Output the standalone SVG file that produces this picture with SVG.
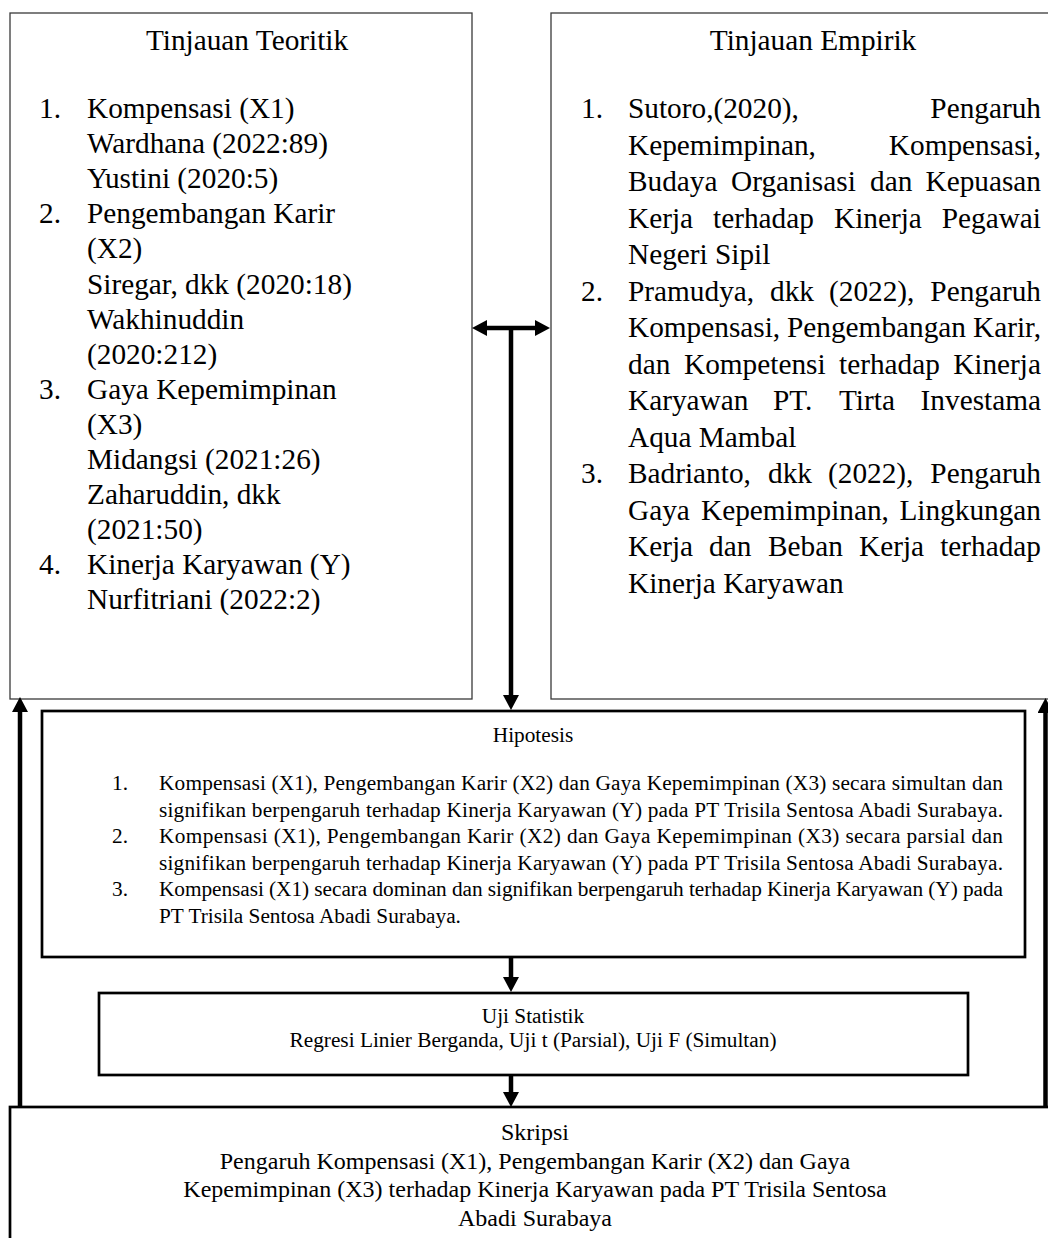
<svg xmlns="http://www.w3.org/2000/svg" width="1048" height="1238" viewBox="0 0 1048 1238">
<style>
text{font-family:"Liberation Serif","Times New Roman",serif;fill:#000}
.big{font-size:29.3px}
.mid{font-size:21.3px}
.sk{font-size:24px}
.c{text-anchor:middle}
.e{text-anchor:end}
.thin{fill:#fff;stroke:#3a3a3a;stroke-width:1.3}
.thick{fill:#fff;stroke:#000;stroke-width:2.7}
.conn{fill:none;stroke:#000;stroke-width:4.5}
</style>
<defs>
<marker id="ah" viewBox="0 0 15 16" refX="0" refY="8" markerWidth="15" markerHeight="16" markerUnits="userSpaceOnUse" orient="auto-start-reverse">
<path d="M0,0 L15,8 L0,16 z" fill="#000"/>
</marker>
</defs>
<rect width="1048" height="1238" fill="#fff"/>

<g id="node-teoritik">
<rect class="thin" x="10" y="13" width="462" height="686"/>
<text class="big c" x="247" y="50">Tinjauan Teoritik</text>
<text class="big" x="39" y="118">1.</text><text class="big" x="87" y="118">Kompensasi (X1)</text>
<text class="big" x="87" y="153">Wardhana (2022:89)</text>
<text class="big" x="87" y="188">Yustini (2020:5)</text>
<text class="big" x="39" y="223">2.</text><text class="big" x="87" y="223">Pengembangan Karir</text>
<text class="big" x="87" y="258">(X2)</text>
<text class="big" x="87" y="294">Siregar, dkk (2020:18)</text>
<text class="big" x="87" y="329">Wakhinuddin</text>
<text class="big" x="87" y="364">(2020:212)</text>
<text class="big" x="39" y="399">3.</text><text class="big" x="87" y="399">Gaya Kepemimpinan</text>
<text class="big" x="87" y="434">(X3)</text>
<text class="big" x="87" y="469">Midangsi (2021:26)</text>
<text class="big" x="87" y="504">Zaharuddin, dkk</text>
<text class="big" x="87" y="539">(2021:50)</text>
<text class="big" x="39" y="574">4.</text><text class="big" x="87" y="574">Kinerja Karyawan (Y)</text>
<text class="big" x="87" y="609">Nurfitriani (2022:2)</text>
</g>

<g id="node-empirik">
<rect class="thin" x="551" y="13" width="520" height="686"/>
<text class="big c" x="813" y="50">Tinjauan Empirik</text>
<text class="big" x="581" y="118">1.</text>
<text class="big" x="628" y="118">Sutoro,(2020),</text><text class="big e" x="1041" y="118">Pengaruh</text>
<text class="big" x="628" y="154.5">Kepemimpinan,</text><text class="big e" x="1041" y="154.5">Kompensasi,</text>
<text class="big" x="628" y="191">Budaya</text><text class="big" x="731" y="191">Organisasi</text><text class="big" x="870" y="191">dan</text><text class="big e" x="1041" y="191">Kepuasan</text>
<text class="big" x="628" y="227.5">Kerja</text><text class="big" x="713" y="227.5">terhadap</text><text class="big" x="834" y="227.5">Kinerja</text><text class="big e" x="1041" y="227.5">Pegawai</text>
<text class="big" x="628" y="264">Negeri Sipil</text>
<text class="big" x="581" y="300.5">2.</text>
<text class="big" x="628" y="300.5">Pramudya,</text><text class="big" x="770" y="300.5">dkk</text><text class="big" x="829" y="300.5">(2022),</text><text class="big e" x="1041" y="300.5">Pengaruh</text>
<text class="big" x="628" y="337">Kompensasi,</text><text class="big" x="787" y="337">Pengembangan</text><text class="big e" x="1041" y="337">Karir,</text>
<text class="big" x="628" y="373.5">dan</text><text class="big" x="684" y="373.5">Kompetensi</text><text class="big" x="839" y="373.5">terhadap</text><text class="big e" x="1041" y="373.5">Kinerja</text>
<text class="big" x="628" y="410">Karyawan</text><text class="big" x="773" y="410">PT.</text><text class="big" x="839" y="410">Tirta</text><text class="big e" x="1041" y="410">Investama</text>
<text class="big" x="628" y="446.5">Aqua Mambal</text>
<text class="big" x="581" y="483">3.</text>
<text class="big" x="628" y="483">Badrianto,</text><text class="big" x="768" y="483">dkk</text><text class="big" x="828" y="483">(2022),</text><text class="big e" x="1041" y="483">Pengaruh</text>
<text class="big" x="628" y="519.5">Gaya</text><text class="big" x="701" y="519.5">Kepemimpinan,</text><text class="big e" x="1041" y="519.5">Lingkungan</text>
<text class="big" x="628" y="556">Kerja</text><text class="big" x="709" y="556">dan</text><text class="big" x="768" y="556">Beban</text><text class="big" x="859" y="556">Kerja</text><text class="big e" x="1041" y="556">terhadap</text>
<text class="big" x="628" y="592.5">Kinerja Karyawan</text>
</g>

<g id="node-hipotesis">
<rect class="thick" x="42" y="711" width="983" height="246"/>
<text class="mid c" x="533" y="742">Hipotesis</text>
<text class="mid" x="112" y="790">1.</text>
<text class="mid" x="159" y="790" textLength="844" lengthAdjust="spacing">Kompensasi (X1), Pengembangan Karir (X2) dan Gaya Kepemimpinan (X3) secara simultan dan</text>
<text class="mid" x="159" y="816.5" textLength="844" lengthAdjust="spacing">signifikan berpengaruh terhadap Kinerja Karyawan (Y) pada PT Trisila Sentosa Abadi Surabaya.</text>
<text class="mid" x="112" y="843">2.</text>
<text class="mid" x="159" y="843" textLength="844" lengthAdjust="spacing">Kompensasi (X1), Pengembangan Karir (X2) dan Gaya Kepemimpinan (X3) secara parsial dan</text>
<text class="mid" x="159" y="869.5" textLength="844" lengthAdjust="spacing">signifikan berpengaruh terhadap Kinerja Karyawan (Y) pada PT Trisila Sentosa Abadi Surabaya.</text>
<text class="mid" x="112" y="896">3.</text>
<text class="mid" x="159" y="896" textLength="844" lengthAdjust="spacing">Kompensasi (X1) secara dominan dan signifikan berpengaruh terhadap Kinerja Karyawan (Y) pada</text>
<text class="mid" x="159" y="922.5">PT Trisila Sentosa Abadi Surabaya.</text>
</g>

<g id="node-uji">
<rect class="thick" x="99" y="993" width="869" height="82"/>
<text class="mid c" x="533" y="1023">Uji Statistik</text>
<text class="mid c" x="533" y="1047">Regresi Linier Berganda, Uji t (Parsial), Uji F (Simultan)</text>
</g>

<g id="node-skripsi">
<rect class="thick" x="10" y="1107" width="1060" height="160"/>
<text class="sk c" x="535" y="1140">Skripsi</text>
<text class="sk c" x="535" y="1168.5">Pengaruh Kompensasi (X1), Pengembangan Karir (X2) dan Gaya</text>
<text class="sk c" x="535" y="1197">Kepemimpinan (X3) terhadap Kinerja Karyawan pada PT Trisila Sentosa</text>
<text class="sk c" x="535" y="1225.5">Abadi Surabaya</text>
</g>

<g id="connectors">
<line class="conn" x1="487" y1="328" x2="535" y2="328" marker-start="url(#ah)" marker-end="url(#ah)"/>
<line class="conn" x1="511" y1="328" x2="511" y2="695" marker-end="url(#ah)"/>
<line class="conn" x1="511" y1="957" x2="511" y2="977" marker-end="url(#ah)"/>
<line class="conn" x1="511" y1="1075" x2="511" y2="1092" marker-end="url(#ah)"/>
<line class="conn" x1="20" y1="1107" x2="20" y2="712" marker-end="url(#ah)"/>
<line class="conn" x1="1045.5" y1="1107" x2="1045.5" y2="713" marker-end="url(#ah)"/>
</g>
</svg>
